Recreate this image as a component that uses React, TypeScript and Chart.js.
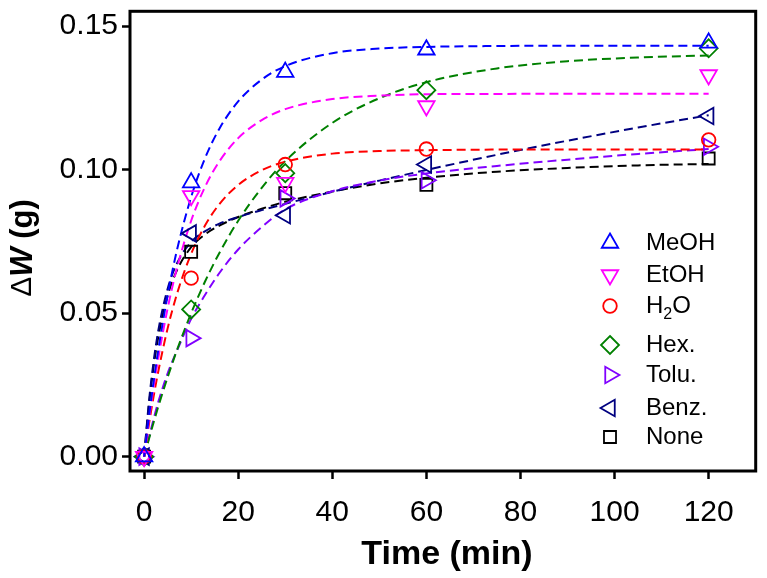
import React, { useEffect, useRef } from "react";
import { Chart, registerables } from "chart.js";
Chart.register(...registerables);

// Measured points (time in min, ΔW in g)
const sampleTimes = [0, 10, 30, 60, 120];
const meohPts = [0, 0.0955, 0.134, 0.1418, 0.1442];
const etohPts = [0, 0.0909, 0.0955, 0.1222, 0.133];
const h2oPts = [0, 0.0622, 0.1018, 0.1072, 0.1104];
const hexPts = [0, 0.0513, 0.0988, 0.1277, 0.1423];
const toluPts = [0, 0.0413, 0.09, 0.0963, 0.108];
const benzPts = [0, 0.0778, 0.0841, 0.1018, 0.1187];
const nonePts = [0, 0.0714, 0.0918, 0.0947, 0.1039];

// Fitted curves
const fitTimes = [0, 1, 2, 3, 5, 7, 10, 13, 16, 20, 25, 30, 40, 50, 60, 75, 90, 105, 120];
const meohFit = [0, 0.0136, 0.026, 0.0371, 0.0563, 0.0721, 0.0905, 0.1042, 0.1143, 0.1238, 0.1314, 0.1361, 0.1406, 0.1422, 0.1428, 0.1431, 0.1432, 0.1432, 0.1432];
const etohFit = [0, 0.0126, 0.024, 0.0342, 0.0517, 0.0658, 0.0822, 0.0942, 0.1029, 0.111, 0.1173, 0.1211, 0.1246, 0.1258, 0.1263, 0.1264, 0.1265, 0.1265, 0.1265];
const h2oFit = [0, 0.011, 0.0208, 0.0296, 0.0447, 0.0568, 0.0707, 0.0807, 0.088, 0.0947, 0.0998, 0.1028, 0.1056, 0.1065, 0.1068, 0.107, 0.107, 0.107, 0.107];
const hexFit = [0, 0.006, 0.0118, 0.0174, 0.0277, 0.0372, 0.05, 0.0612, 0.071, 0.0822, 0.0937, 0.103, 0.1163, 0.1249, 0.1305, 0.1353, 0.1378, 0.1391, 0.1398];
const toluFit = [0, 0.0065, 0.013, 0.019, 0.029, 0.037, 0.048, 0.0565, 0.064, 0.0722, 0.08, 0.0862, 0.0925, 0.0962, 0.0987, 0.1013, 0.1035, 0.1055, 0.1072];
const benzFit = [0, 0.0187, 0.0329, 0.0438, 0.0585, 0.0674, 0.0748, 0.0786, 0.0812, 0.0835, 0.0859, 0.0881, 0.0923, 0.0962, 0.0999, 0.1052, 0.1101, 0.1147, 0.119];
const noneFit = [0, 0.0176, 0.0312, 0.0416, 0.0561, 0.065, 0.073, 0.0775, 0.0805, 0.0835, 0.0864, 0.0888, 0.0924, 0.0952, 0.0972, 0.0993, 0.1006, 0.1015, 0.102];

const seriesNames = ["MeOH", "EtOH", "H2O", "Hex.", "Tolu.", "Benz.", "None"];
const xTickValues = [0, 20, 40, 60, 80, 100, 120];
const yTickValues = [0, 0.05, 0.1, 0.15];

const seriesPts = [meohPts, etohPts, h2oPts, hexPts, toluPts, benzPts, nonePts];
const seriesFits = [meohFit, etohFit, h2oFit, hexFit, toluFit, benzFit, noneFit];
const styles = [
  { color: "#0000ff", shape: "triangle", rot: 0, r: 9.5 },
  { color: "#ff00ff", shape: "triangle", rot: 180, r: 9.5 },
  { color: "#ff0000", shape: "circle", rot: 0, r: 6.8 },
  { color: "#008000", shape: "rectRot", rot: 0, r: 9 },
  { color: "#8000ff", shape: "triangle", rot: 90, r: 9.5 },
  { color: "#000080", shape: "triangle", rot: -90, r: 9.5 },
  { color: "#000000", shape: "rect", rot: 0, r: 8.5 },
];

const FONT = "'Liberation Sans', Arial, sans-serif";

function drawMarker(ctx: CanvasRenderingContext2D, shape: string, rot: number, r: number, x: number, y: number) {
  const rad = (rot * Math.PI) / 180;
  ctx.beginPath();
  if (shape === "circle") {
    ctx.arc(x, y, r, 0, Math.PI * 2);
  } else if (shape === "triangle") {
    let a = rad;
    ctx.moveTo(x + Math.sin(a) * r, y - Math.cos(a) * r);
    a += (2 * Math.PI) / 3;
    ctx.lineTo(x + Math.sin(a) * r, y - Math.cos(a) * r);
    a += (2 * Math.PI) / 3;
    ctx.lineTo(x + Math.sin(a) * r, y - Math.cos(a) * r);
    ctx.closePath();
  } else if (shape === "rectRot") {
    ctx.moveTo(x, y - r);
    ctx.lineTo(x + r, y);
    ctx.lineTo(x, y + r);
    ctx.lineTo(x - r, y);
    ctx.closePath();
  } else {
    const s = Math.SQRT1_2 * r;
    ctx.rect(x - s, y - s, 2 * s, 2 * s);
  }
  ctx.stroke();
}

const decorPlugin = {
  id: "decor",
  afterDraw(chart: any) {
    const { ctx, chartArea: a } = chart;
    ctx.save();
    ctx.strokeStyle = "#000";
    ctx.lineWidth = 3;
    ctx.strokeRect(a.left, a.top, a.right - a.left, a.bottom - a.top);

    // y title
    ctx.save();
    ctx.translate(23, 248);
    ctx.rotate(-Math.PI / 2);
    ctx.fillStyle = "#000";
    ctx.textBaseline = "middle";
    const parts = [
      { t: "Δ", f: `30px ${FONT}` },
      { t: "W", f: `italic bold 31px ${FONT}` },
      { t: " (g)", f: `bold 31px ${FONT}` },
    ];
    let total = 0;
    parts.forEach((p) => { ctx.font = p.f; total += ctx.measureText(p.t).width; });
    let cx = -total / 2;
    parts.forEach((p) => { ctx.font = p.f; ctx.textAlign = "left"; ctx.fillText(p.t, cx, 0); cx += ctx.measureText(p.t).width; });
    ctx.restore();

    // x title
    ctx.fillStyle = "#000";
    ctx.font = `bold 34px ${FONT}`;
    ctx.textAlign = "center";
    ctx.textBaseline = "middle";
    ctx.fillText("Time (min)", 447, 555);

    // legend
    const rows = [243, 275, 306, 345, 375, 408, 437];
    ctx.textAlign = "left";
    seriesNames.forEach((name, i) => {
      const s = styles[i];
      ctx.strokeStyle = s.color;
      ctx.lineWidth = 1.8;
      drawMarker(ctx, s.shape, s.rot, s.r, 610, rows[i]);
      ctx.fillStyle = "#000";
      ctx.font = `24px ${FONT}`;
      if (name === "H2O") {
        ctx.fillText("H", 646, rows[i]);
        const w = ctx.measureText("H").width;
        ctx.font = `16px ${FONT}`;
        ctx.fillText("2", 646 + w, rows[i] + 9);
        const w2 = ctx.measureText("2").width;
        ctx.font = `24px ${FONT}`;
        ctx.fillText("O", 646 + w + w2, rows[i]);
      } else {
        ctx.fillText(name, 646, rows[i]);
      }
    });
    ctx.restore();
  },
};

export default function App() {
  const ref = useRef<HTMLCanvasElement | null>(null);
  useEffect(() => {
    if (!ref.current) return;
    const datasets: any[] = [];
    seriesNames.forEach((name, i) => {
      const s = styles[i];
      datasets.push({
        type: "line",
        label: name + " fit",
        data: fitTimes.map((t, j) => ({ x: t, y: seriesFits[i][j] })),
        borderColor: s.color,
        borderWidth: 2,
        borderDash: [9, 5],
        pointRadius: 0,
        cubicInterpolationMode: "monotone",
        fill: false,
        order: 2,
      });
    });
    seriesNames.forEach((name, i) => {
      const s = styles[i];
      datasets.push({
        type: "scatter",
        label: name,
        data: sampleTimes.map((t, j) => ({ x: t, y: seriesPts[i][j] })),
        borderColor: s.color,
        backgroundColor: "rgba(0,0,0,0)",
        pointStyle: s.shape,
        rotation: s.rot,
        pointRadius: s.r,
        pointBorderWidth: 1.8,
        showLine: false,
        order: 1,
      });
    });
    const chart = new Chart(ref.current, {
      type: "scatter",
      data: { datasets },
      options: {
        animation: false,
        responsive: true,
        maintainAspectRatio: false,
        layout: { padding: { top: 8, right: 10, left: 0, bottom: 0 } },
        plugins: { legend: { display: false }, tooltip: { enabled: false } },
        scales: {
          x: {
            type: "linear",
            min: -3,
            max: 130,
            afterBuildTicks: (s: any) => { s.ticks = xTickValues.map((v) => ({ value: v })); },
            afterFit: (s: any) => { s.height = 107; s.paddingLeft = 0; s.paddingRight = 0; },
            grid: { display: true, drawOnChartArea: false, drawTicks: true, tickLength: 8, tickWidth: 2.5, tickColor: "#000" },
            border: { display: false },
            ticks: { color: "#000", font: { family: FONT, size: 30 }, padding: 16, maxRotation: 0, callback: (v: any) => String(v) },
          },
          y: {
            type: "linear",
            min: -0.005,
            max: 0.1552,
            afterBuildTicks: (s: any) => { s.ticks = yTickValues.map((v) => ({ value: v })); },
            afterFit: (s: any) => { s.width = 130; s.paddingTop = 0; s.paddingBottom = 0; },
            grid: { display: true, drawOnChartArea: false, drawTicks: true, tickLength: 8, tickWidth: 2.5, tickColor: "#000" },
            border: { display: false },
            ticks: { color: "#000", font: { family: FONT, size: 30 }, padding: 4, callback: (v: any) => Number(v).toFixed(2) },
          },
        },
      },
      plugins: [decorPlugin],
    } as any);
    return () => chart.destroy();
  }, []);
  return (
    <div style={{ position: "absolute", left: 0, top: 0, width: 767, height: 578 }}>
      <canvas ref={ref} />
    </div>
  );
}
